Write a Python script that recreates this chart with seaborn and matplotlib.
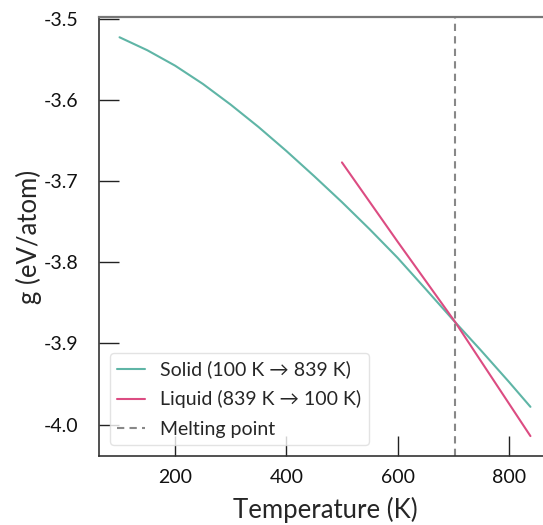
import matplotlib
matplotlib.use("Agg")
import matplotlib.pyplot as plt
import seaborn as sns
import pandas as pd

# Gibbs free energy per atom, solid branch (heating run)
solid_T = [100, 150, 200, 250, 300, 350, 400, 450, 500, 550, 600, 650, 700, 750, 800, 839]
solid_g = [-3.5229, -3.5389, -3.5579, -3.5804, -3.6059, -3.6334, -3.6629, -3.6939,
           -3.7259, -3.7594, -3.7944, -3.8325, -3.8710, -3.9085, -3.9470, -3.9780]

# Liquid branch (cooling run)
liquid_T = [500, 600, 703, 839]
liquid_g = [-3.677, -3.7745, -3.873, -4.014]

melting_T = 703

solid_label = "Solid (100 K \u2192 839 K)"
liquid_label = "Liquid (839 K \u2192 100 K)"
melt_label = "Melting point"

x_ticks = [200, 400, 600, 800]
y_ticks = [-3.5, -3.6, -3.7, -3.8, -3.9, -4.0]

sns.set_style("ticks")
plt.rcParams["font.family"] = ["Lato", "DejaVu Sans"]

solid_df = pd.DataFrame({"T": solid_T, "g": solid_g})
liquid_df = pd.DataFrame({"T": liquid_T, "g": liquid_g})

fig = plt.figure(figsize=(5.43, 5.25), dpi=100)
ax = fig.add_axes([0.1823, 0.1314, 0.8324, 0.8356])

sns.lineplot(data=solid_df, x="T", y="g", ax=ax, color="#5fb5a6", lw=1.5, label=solid_label)
sns.lineplot(data=liquid_df, x="T", y="g", ax=ax, color="#dc4c82", lw=1.5, label=liquid_label)
ax.axvline(melting_T, color="#888888", ls=(0, (3.5, 2.5)), lw=1.5, label=melt_label)

ax.set_xticks(x_ticks)
ax.set_yticks(y_ticks)
ax.set_yticklabels([f"{v:.1f}" for v in y_ticks])
ax.set_xlabel("Temperature (K)", fontsize=18.5, labelpad=8)
ax.set_ylabel("g (eV/atom)", fontsize=18.5, labelpad=1)
ax.tick_params(direction="in", length=14.5, width=1.0, color="#222222",
               labelcolor="#111111", labelsize=14, pad=9)
ax.tick_params(axis="y", pad=15)

for side in ["left", "bottom"]:
    ax.spines[side].set_color("#333333")
    ax.spines[side].set_linewidth(1.2)
ax.spines["top"].set_color("#777777")
ax.spines["top"].set_linewidth(1.6)
ax.spines["right"].set_visible(False)

leg = ax.legend(loc="lower left", fontsize=14, frameon=True, fancybox=True,
                borderaxespad=0.55, handlelength=1.4, handletextpad=0.8,
                labelspacing=0.62)
leg.get_frame().set_edgecolor("#dddddd")
leg.get_frame().set_linewidth(1.0)

fig.savefig("out.png", dpi=100)
